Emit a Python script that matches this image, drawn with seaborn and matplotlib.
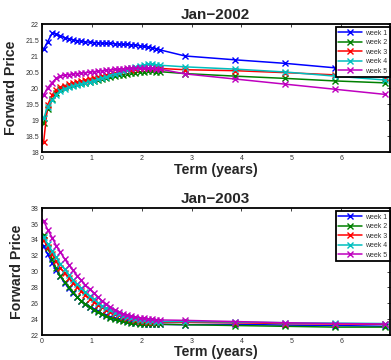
import matplotlib
matplotlib.use("Agg")
import matplotlib.pyplot as plt
import seaborn as sns
import pandas as pd

sns.set_theme(style="white")
plt.rcParams["font.family"] = ["Liberation Sans", "DejaVu Sans"]

# Contract terms in years (monthly strip, then annual contracts)
terms = [0.04, 0.12, 0.21, 0.29, 0.37, 0.46, 0.54, 0.62, 0.71, 0.79, 0.87, 0.96,
         1.04, 1.12, 1.21, 1.29, 1.37, 1.46, 1.54, 1.62, 1.71, 1.79, 1.87, 1.96,
         2.04, 2.12, 2.21, 2.29, 2.37, 2.87, 3.87, 4.87, 5.87, 6.87]

weeks = ["week 1", "week 2", "week 3", "week 4", "week 5"]
week_colors = ["#0000ff", "#008000", "#ff0000", "#00bfbf", "#bf00bf"]

# Forward curves, January 2002
jan2002_week1 = [21.22, 21.46, 21.72, 21.70, 21.64, 21.58, 21.55, 21.52, 21.49, 21.47, 21.45, 21.44,
                 21.43, 21.42, 21.41, 21.40, 21.40, 21.39, 21.38, 21.38, 21.37, 21.36, 21.35, 21.33,
                 21.31, 21.29, 21.27, 21.24, 21.20, 21.01, 20.89, 20.78, 20.64, 20.55]
jan2002_week2 = [18.90, 19.35, 19.65, 19.85, 19.97, 20.03, 20.07, 20.10, 20.13, 20.15, 20.18, 20.21,
                 20.24, 20.27, 20.30, 20.33, 20.36, 20.39, 20.41, 20.43, 20.45, 20.47, 20.49, 20.51,
                 20.52, 20.53, 20.53, 20.52, 20.52, 20.46, 20.38, 20.31, 20.23, 20.17]
jan2002_week3 = [18.33, 19.48, 19.80, 19.95, 20.03, 20.08, 20.12, 20.16, 20.19, 20.22, 20.26, 20.30,
                 20.33, 20.36, 20.39, 20.42, 20.45, 20.48, 20.51, 20.54, 20.56, 20.58, 20.60, 20.62,
                 20.63, 20.63, 20.63, 20.62, 20.62, 20.58, 20.55, 20.49, 20.42, 20.36]
jan2002_week4 = [19.06, 19.43, 19.63, 19.80, 19.92, 19.99, 20.04, 20.08, 20.11, 20.14, 20.17, 20.20,
                 20.24, 20.28, 20.32, 20.36, 20.40, 20.44, 20.48, 20.53, 20.58, 20.63, 20.67, 20.71,
                 20.73, 20.75, 20.75, 20.74, 20.72, 20.67, 20.60, 20.51, 20.38, 20.26]
jan2002_week5 = [19.79, 20.02, 20.18, 20.31, 20.38, 20.41, 20.43, 20.44, 20.46, 20.47, 20.49, 20.50,
                 20.52, 20.53, 20.55, 20.56, 20.58, 20.59, 20.60, 20.61, 20.62, 20.62, 20.63, 20.63,
                 20.63, 20.62, 20.62, 20.61, 20.60, 20.45, 20.29, 20.13, 19.97, 19.81]

# Forward curves, January 2003
jan2003_week1 = [33.30, 32.20, 31.10, 30.20, 29.40, 28.60, 27.90, 27.30, 26.80, 26.30, 25.90, 25.60,
                 25.30, 25.00, 24.70, 24.50, 24.30, 24.10, 24.00, 23.85, 23.75, 23.65, 23.55, 23.50,
                 23.45, 23.40, 23.40, 23.35, 23.35, 23.30, 23.35, 23.25, 23.20, 23.10]
jan2003_week2 = [34.60, 33.00, 31.60, 30.40, 29.50, 28.70, 28.00, 27.40, 26.80, 26.30, 25.90, 25.50,
                 25.20, 24.90, 24.60, 24.40, 24.20, 24.00, 23.85, 23.75, 23.65, 23.55, 23.50, 23.45,
                 23.40, 23.40, 23.35, 23.35, 23.35, 23.30, 23.20, 23.10, 23.00, 23.00]
jan2003_week3 = [34.00, 33.10, 32.20, 31.30, 30.50, 29.80, 29.20, 28.60, 28.00, 27.50, 27.00, 26.60,
                 26.20, 25.80, 25.50, 25.20, 24.90, 24.70, 24.50, 24.30, 24.15, 24.00, 23.90, 23.80,
                 23.75, 23.70, 23.65, 23.60, 23.60, 23.60, 23.55, 23.45, 23.40, 23.35]
jan2003_week4 = [34.40, 33.50, 32.60, 31.80, 31.00, 30.30, 29.60, 29.00, 28.40, 27.90, 27.40, 26.90,
                 26.50, 26.10, 25.70, 25.40, 25.10, 24.80, 24.60, 24.40, 24.25, 24.10, 24.00, 23.90,
                 23.85, 23.80, 23.75, 23.70, 23.70, 23.70, 23.65, 23.55, 23.50, 23.45]
jan2003_week5 = [36.40, 35.30, 34.30, 33.30, 32.50, 31.60, 30.90, 30.20, 29.50, 28.90, 28.30, 27.80,
                 27.30, 26.80, 26.30, 25.90, 25.50, 25.20, 24.90, 24.70, 24.50, 24.35, 24.25, 24.20,
                 24.10, 24.05, 24.00, 23.95, 23.90, 23.85, 23.70, 23.55, 23.45, 23.40]

x_ticks = [0, 1, 2, 3, 4, 5, 6]
x_tick_labels = ["0", "1", "2", "3", "4", "5", "6"]
y_ticks_2002 = [18, 18.5, 19, 19.5, 20, 20.5, 21, 21.5, 22]
y_tick_labels_2002 = ["18", "18.5", "19", "19.5", "20", "20.5", "21", "21.5", "22"]
y_ticks_2003 = [22, 24, 26, 28, 30, 32, 34, 36, 38]
y_tick_labels_2003 = ["22", "24", "26", "28", "30", "32", "34", "36", "38"]

panels = [
    ("Jan\u22122002", [jan2002_week1, jan2002_week2, jan2002_week3, jan2002_week4, jan2002_week5],
     y_ticks_2002, y_tick_labels_2002),
    ("Jan\u22122003", [jan2003_week1, jan2003_week2, jan2003_week3, jan2003_week4, jan2003_week5],
     y_ticks_2003, y_tick_labels_2003),
]

fig = plt.figure(figsize=(3.91, 3.60), dpi=100)
ax_top = fig.add_axes([0.1066, 0.577, 0.8904, 0.3555])
ax_bot = fig.add_axes([0.1066, 0.0694, 0.8904, 0.352])

for ax, (title, curves, yt, ytl) in zip([ax_top, ax_bot], panels):
    frames = []
    for wk, vals in zip(weeks, curves):
        frames.append(pd.DataFrame({"term": terms, "price": vals, "week": wk}))
    df = pd.concat(frames, ignore_index=True)
    for wk, col in zip(weeks, week_colors):
        sub = df[df["week"] == wk]
        sns.lineplot(data=sub, x="term", y="price", ax=ax, color=col, label=wk,
                     marker="x", markersize=4, markeredgecolor=col,
                     markeredgewidth=1.0, linewidth=1.1, sort=False,
                     estimator=None, errorbar=None)
    ax.set_xlim(0, 6.97)
    ax.set_ylim(yt[0], yt[-1])
    ax.set_xticks(x_ticks)
    ax.set_xticklabels(x_tick_labels)
    ax.set_yticks(yt)
    ax.set_yticklabels(ytl)
    ax.tick_params(axis="both", which="both", direction="in", length=2.5, width=0.6,
                   labelsize=5, pad=2, colors="#222222", top=True, right=True,
                   labelcolor="#333333")
    for s in ax.spines.values():
        s.set_linewidth(1.3)
        s.set_color("black")
    ax.set_title(title, fontsize=11, fontweight="bold", pad=3.5)
    ax.set_xlabel("Term (years)", fontsize=10.2, fontweight="bold", labelpad=0.5)
    ax.set_ylabel("Forward Price", fontsize=10.2, fontweight="bold", labelpad=5)
    leg = ax.legend(loc="upper right", bbox_to_anchor=(1.0, 0.975), borderaxespad=0,
                    fontsize=5, handlelength=3.4, handletextpad=0.5, labelspacing=0.35,
                    borderpad=0.35, fancybox=False, framealpha=1)
    leg.get_frame().set_edgecolor("black")
    leg.get_frame().set_linewidth(1.3)
    for t in leg.get_texts():
        t.set_color("#333333")

fig.savefig("out.png", dpi=100)
